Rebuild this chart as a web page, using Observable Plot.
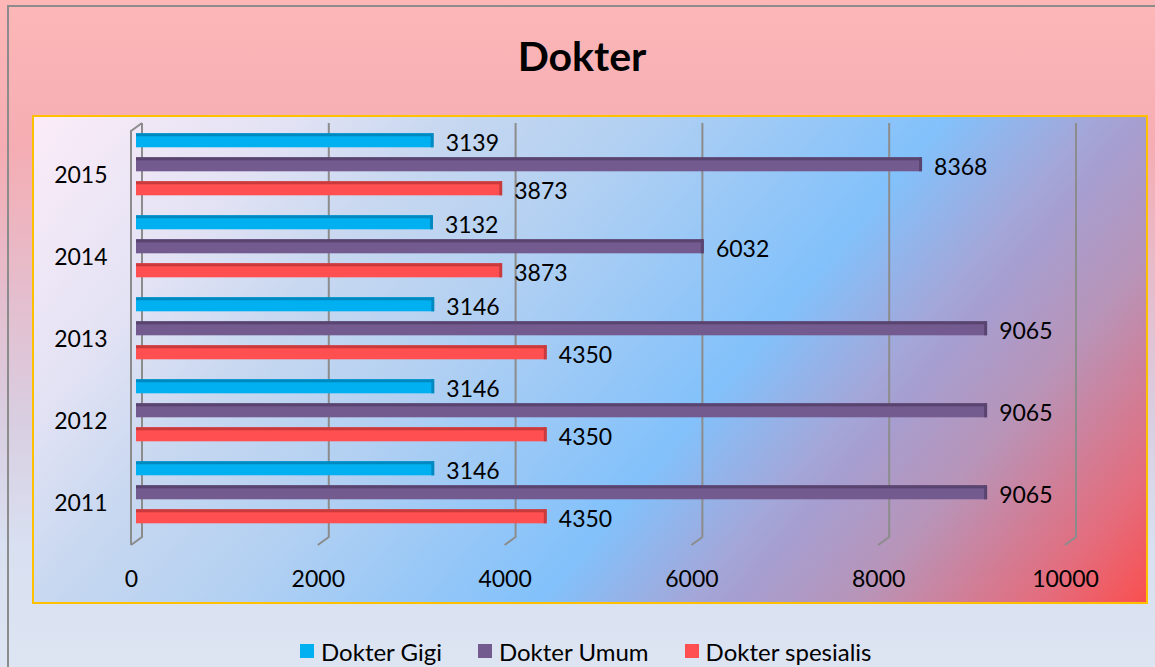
<!DOCTYPE html>
<html>
<head>
<meta charset="utf-8">
<script src="https://cdn.jsdelivr.net/npm/d3@7"></script>
<script src="https://cdn.jsdelivr.net/npm/@observablehq/plot@0.6"></script>
<style>
  html, body { margin: 0; padding: 0; }
  body { width: 1155px; height: 667px; overflow: hidden; font-family: Lato, "Open Sans", sans-serif; }
  #page {
    position: relative; width: 1155px; height: 667px;
    background: linear-gradient(180deg, #fdb7b7 0%, #f5adb3 22%, #e6bccb 42%, #d9cde0 62%, #d8e0f1 82%, #dde5f3 100%);
  }
  #frame {
    position: absolute; left: 7px; top: 5px; width: 1160px; height: 680px;
    border-left: 2px solid #8c8c8c; border-top: 2px solid #8c8c8c; box-sizing: border-box;
  }
  #title {
    position: absolute; left: 0; top: 32px; width: 1164px; text-align: center;
    font-family: Lato, sans-serif; font-weight: bold; font-size: 41px; line-height: 48px; color: #000;
  }
  #chart { position: absolute; left: 33px; top: 116px; }
  #chart svg {
    outline: 2px solid #ffc000; outline-offset: -1px;
    background: linear-gradient(130deg, #fcecf8 0%, #e2e2f4 17%, #c8d8f0 27%, #b2d0f2 40%, #82c1fb 60%, #a4a6d8 70%, #a69ed0 73%, #b894b8 81%, #e46c7c 93%, #fa4f4f 100%);
  }
  #legend {
    position: absolute; left: 300px; top: 636px; height: 30px; display: flex; align-items: center;
    font-family: Lato, sans-serif; font-size: 24px; color: #000; white-space: nowrap;
  }
  .item { display: flex; align-items: center; margin-right: 36px; }
  .sw { width: 14px; height: 14px; margin-right: 7px; }
</style>
</head>
<body>
<div id="page">
  <div id="frame"></div>
  <div id="title">Dokter</div>
  <div id="chart"></div>
  <div id="legend"></div>
</div>
<script>
// ---- data ----
const years = ["2015", "2014", "2013", "2012", "2011"];
const series = ["Dokter Gigi", "Dokter Umum", "Dokter spesialis"];
const dokterGigi = [3139, 3132, 3146, 3146, 3146];
const dokterUmum = [8368, 6032, 9065, 9065, 9065];
const dokterSpesialis = [3873, 3873, 4350, 4350, 4350];
const xTicks = [0, 2000, 4000, 6000, 8000, 10000];
const colors = ["#00b0f0", "#735a8f", "#ff4f50"];
const topColors = ["#0089c0", "#59436f", "#c83a3c"];

const valuesBySeries = [dokterGigi, dokterUmum, dokterSpesialis];
const rows = [];
years.forEach((yr, i) => {
  series.forEach((s, j) => {
    rows.push({ year: yr, series: s, value: valuesBySeries[j][i] });
  });
});

const fillScale = { domain: series, range: colors };
const topFill = d => topColors[series.indexOf(d.series)];

const chart = Plot.plot({
  width: 1114,
  height: 487,
  marginLeft: 107,
  marginRight: 73,
  marginTop: 15.7,
  marginBottom: 78.6,
  style: { fontFamily: "Lato, sans-serif", fontSize: "23px", color: "#000", overflow: "visible" },
  x: { domain: [0, 10000], axis: null },
  y: { domain: series, paddingInner: 0.43, paddingOuter: 0, axis: null },
  fy: { domain: years, paddingInner: 0.231, paddingOuter: 0, axis: null, label: null },
  color: fillScale,
  marks: [
    Plot.barX(rows, { x: "value", y: "series", fy: "year", fill: "series", insetLeft: -4 }),
    Plot.barX(rows, { x: "value", y: "series", fy: "year", fill: topFill, insetLeft: -4, insetBottom: 11 }),
    Plot.tickX(rows, { x: "value", y: "series", fy: "year", stroke: topFill, strokeWidth: 3, dx: -1.5 }),
    Plot.text(rows, {
      x: "value", y: "series", fy: "year", text: d => String(d.value),
      textAnchor: "start", dx: 12, dy: 3, fontSize: 23, fill: "#000"
    }),
    Plot.axisX({ ticks: xTicks, tickFormat: d3.format("d"), tickSize: 0, tickPadding: 46, dx: -9, fontSize: 23, label: null }),
    Plot.axisFy({ anchor: "left", tickSize: 0, tickPadding: 33, dy: 11, fontSize: 23, label: null })
  ]
});

document.getElementById("chart").appendChild(chart);

// ---- 3D-style gridlines and side wall (behind the bars) ----
const xs = chart.scale("x");
const svg = d3.select(chart);
const g = svg.insert("g", "g").attr("stroke", "#8c8c8c").attr("stroke-width", 2).attr("fill", "none");
const gTop = 7, gBot = 421, footDx = -11, footDy = 8;
xTicks.forEach(t => {
  const px = xs.apply(t) + 2;
  g.append("path").attr("d", `M${px},${gTop}V${gBot}l${footDx},${footDy}`);
});
const x0 = xs.apply(0) + 2;
g.append("path").attr("d", `M${x0},${gTop}l${footDx},${footDy}V${gBot + footDy}`);

// ---- legend ----
const legend = d3.select("#legend");
series.forEach((s, i) => {
  const it = legend.append("div").attr("class", "item");
  it.append("div").attr("class", "sw").style("background", colors[i]);
  it.append("span").text(s);
});
</script>
</body>
</html>
